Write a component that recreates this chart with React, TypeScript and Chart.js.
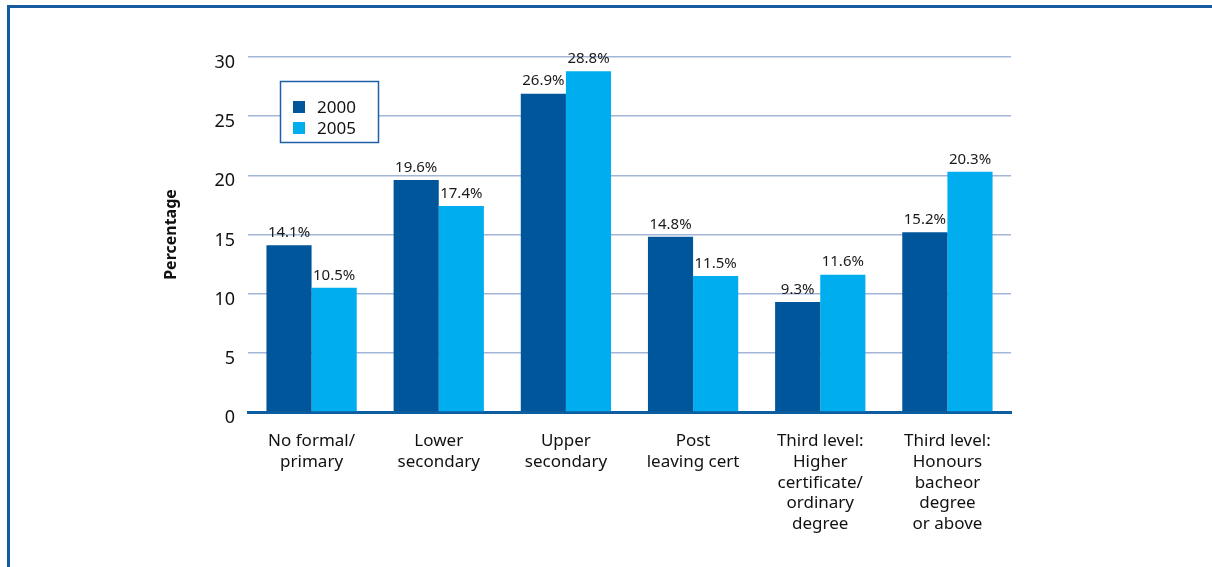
import React, { useEffect, useRef } from "react";
import { Chart, registerables } from "chart.js";

Chart.register(...registerables);

const categories: string[][] = [
  ["No formal/", "primary"],
  ["Lower", "secondary"],
  ["Upper", "secondary"],
  ["Post", "leaving cert"],
  ["Third level:", "Higher", "certificate/", "ordinary", "degree"],
  ["Third level:", "Honours", "bacheor", "degree", "or above"],
];
const seriesNames = ["2000", "2005"];
const values2000 = [14.1, 19.6, 26.9, 14.8, 9.3, 15.2];
const values2005 = [10.5, 17.4, 28.8, 11.5, 11.6, 20.3];
const yTicks = [0, 5, 10, 15, 20, 25, 30];

const DARK = "#00569b";
const LIGHT = "#00aeef";
const FONT = "'Noto Sans', 'Open Sans', sans-serif";

const dataLabelPlugin = {
  id: "dataLabels",
  afterDatasetsDraw(chart: any) {
    const ctx = chart.ctx;
    ctx.save();
    ctx.font = `15px ${FONT}`;
    ctx.fillStyle = "#1a1a1a";
    ctx.textAlign = "center";
    ctx.textBaseline = "bottom";
    chart.data.datasets.forEach((ds: any, i: number) => {
      const meta = chart.getDatasetMeta(i);
      meta.data.forEach((bar: any, j: number) => {
        ctx.fillText(ds.data[j].toFixed(1) + "%", bar.x, bar.y - 5);
      });
    });
    ctx.restore();
  },
};

const legendBoxPlugin = {
  id: "legendBox",
  afterDraw(chart: any) {
    const ctx = chart.ctx;
    const x = 280.5, y = 81.5, w = 98, h = 61;
    ctx.save();
    ctx.fillStyle = "#ffffff";
    ctx.fillRect(x, y, w, h);
    ctx.strokeStyle = "#1f5fa6";
    ctx.lineWidth = 1.5;
    ctx.strokeRect(x, y, w, h);
    ctx.font = `17px ${FONT}`;
    ctx.textBaseline = "middle";
    ctx.textAlign = "left";
    chart.data.datasets.forEach((ds: any, i: number) => {
      const cy = 107 + i * 21;
      ctx.fillStyle = ds.backgroundColor;
      ctx.fillRect(293, cy - 6, 12, 12);
      ctx.fillStyle = "#111111";
      ctx.fillText(ds.label, 317, cy + 1);
    });
    ctx.restore();
  },
};

export default function App() {
  const ref = useRef<HTMLCanvasElement>(null);
  useEffect(() => {
    if (!ref.current) return;
    const chart = new Chart(ref.current, {
      type: "bar",
      data: {
        labels: categories,
        datasets: [
          { label: seriesNames[0], data: values2000, backgroundColor: DARK },
          { label: seriesNames[1], data: values2005, backgroundColor: LIGHT },
        ],
      },
      options: {
        animation: false,
        responsive: false,
        maintainAspectRatio: false,
        layout: { padding: { left: 158, right: 201, top: 57, bottom: 0 } },
        plugins: {
          legend: { display: false },
          tooltip: { enabled: false },
        },
        datasets: {
          bar: { categoryPercentage: 0.71, barPercentage: 1.0 },
        } as any,
        scales: {
          x: {
            grid: { display: false, drawTicks: false },
            border: { display: true, color: "#0d5ea0", width: 3 },
            ticks: {
              color: "#111111",
              font: { family: FONT, size: 17, lineHeight: 1.22 },
              padding: 19,
              maxRotation: 0,
              autoSkip: false,
            },
            afterFit(scale: any) {
              scale.height = 155;
            },
          },
          y: {
            min: 0,
            max: 30,
            afterBuildTicks(scale: any) {
              scale.ticks = yTicks.map((v) => ({ value: v }));
            },
            grid: {
              color: "#a3b6d8",
              lineWidth: 1.5,
              drawTicks: false,
            },
            border: { display: false },
            ticks: {
              color: "#111111",
              font: { family: FONT, size: 18 },
              padding: 13,
              labelOffset: 6,
            },
            title: {
              display: true,
              text: "Percentage",
              color: "#111111",
              font: { family: FONT, size: 16, weight: "bold" },
              padding: { top: 4, bottom: 0 },
            },
            afterFit(scale: any) {
              scale.width = 90;
            },
          },
        },
      },
      plugins: [dataLabelPlugin, legendBoxPlugin],
    });
    return () => chart.destroy();
  }, []);

  return (
    <div style={{ position: "fixed", left: 0, top: 0, width: 1212, height: 567, background: "#fff", overflow: "hidden" }}>
      <div
        style={{
          position: "absolute",
          left: 7,
          top: 5,
          width: 1220,
          height: 600,
          borderLeft: "3px solid #155b9e",
          borderTop: "3px solid #155b9e",
          boxSizing: "border-box",
        }}
      />
      <canvas ref={ref} width={1212} height={567} style={{ position: "absolute", left: 0, top: 0, width: 1212, height: 567 }} />
    </div>
  );
}
